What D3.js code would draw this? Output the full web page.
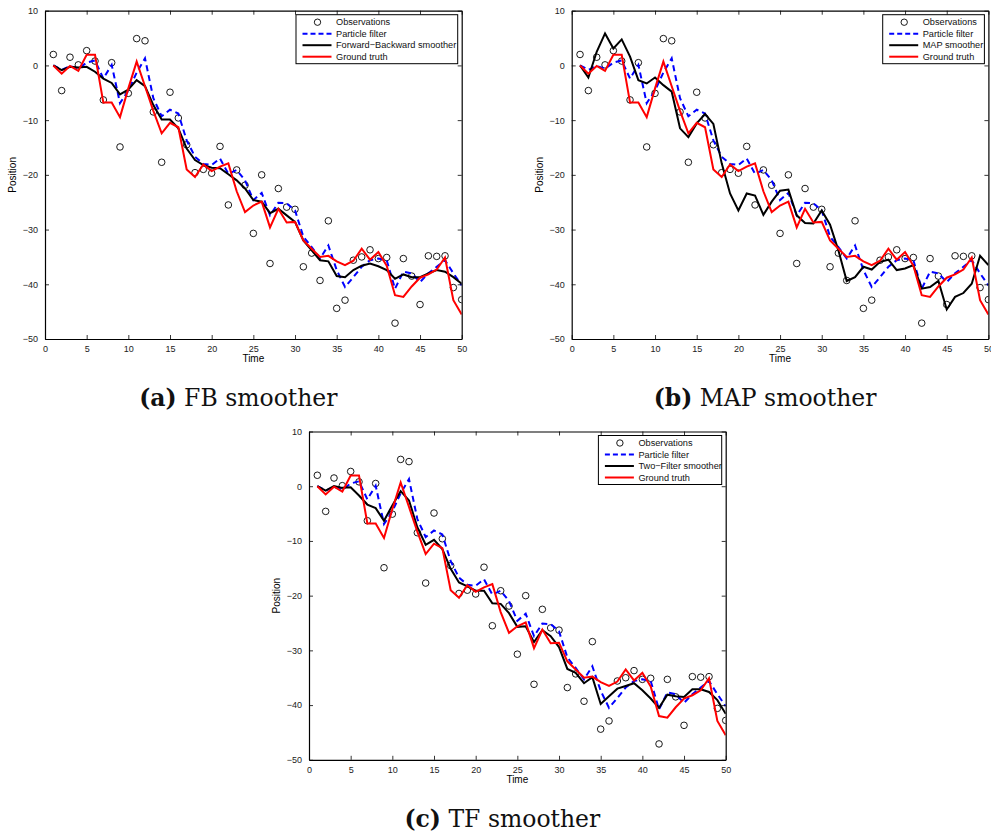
<!DOCTYPE html>
<html>
<head>
<meta charset="utf-8">
<script src="https://cdn.jsdelivr.net/npm/d3@7"></script>
<style>
body { margin: 0; background: #fff; }
svg { display: block; }
</style>
</head>
<body>
<div id="chart"></div>
<script>
// time steps 1..50
var time = d3.range(1, 51);

var observations = [2.0, -4.6, 1.5, 0.1, 2.7, 0.8, -6.3, 0.5, -14.9, -5.1,
	4.9, 4.5, -8.5, -17.7, -4.9, -9.6, -14.5, -19.6, -19.0, -19.7,
	-14.8, -25.5, -19.1, -21.9, -30.7, -20.0, -36.2, -22.5, -25.9, -26.3,
	-36.8, -34.3, -39.3, -28.4, -44.4, -42.9, -35.6, -35.0, -33.7, -35.3,
	-35.1, -47.1, -35.3, -38.5, -43.7, -34.8, -34.9, -34.8, -40.6, -42.8];

var particleFilter = [0, -0.8, -0.1, -0.6, 0.5, 0.9, -2.4, 0.1, -6.9, -4.6,
	-1.3, 1.3, -6.0, -9.3, -8.1, -8.8, -13.7, -16.7, -18.0, -18.2,
	-17.0, -19.8, -19.1, -21.0, -24.6, -23.3, -27.4, -25.1, -25.2, -26.5,
	-31.3, -33.2, -35.3, -32.9, -37.4, -40.5, -38.7, -36.8, -35.6, -35.3,
	-35.6, -40.8, -37.7, -38.0, -39.6, -38.0, -36.8, -35.6, -38.0, -40.2];

var groundTruth = [0, -1.5, -0.1, -1.0, 1.95, 1.95, -6.8, -6.8, -9.45, -4.2,
	0.7, -3.8, -8.3, -12.4, -10.5, -11.3, -19.0, -20.4, -18.1, -19.3,
	-18.5, -17.9, -23.0, -26.8, -25.6, -24.9, -29.6, -26.2, -28.7, -28.6,
	-32.0, -33.5, -35.0, -34.8, -35.8, -36.5, -35.7, -33.5, -35.5, -34.1,
	-36.6, -42.0, -42.3, -40.4, -38.8, -38.2, -37.3, -35.1, -42.9, -45.5];

var fbSmoother = [0, -0.85, -0.25, -0.4, -0.25, -1.15, -2.4, -3.2, -5.3, -4.4,
	-2.7, -3.8, -7.25, -9.9, -9.9, -11.5, -15.2, -17.3, -18.2, -18.7,
	-18.8, -19.9, -21.0, -22.5, -24.6, -24.9, -27.0, -26.2, -27.4, -28.6,
	-32.0, -33.8, -35.6, -35.8, -38.5, -38.7, -37.4, -36.6, -36.2, -36.7,
	-37.4, -39.0, -38.2, -38.7, -38.7, -38.0, -37.4, -37.7, -38.7, -39.9];

var mapSmoother = [0, -2.2, 2.5, 5.85, 3.1, 4.75, 1.6, -2.7, -3.3, -2.2,
	-3.6, -4.8, -11.5, -13.1, -10.6, -8.9, -10.7, -17.9, -23.4, -26.5,
	-23.4, -23.8, -27.3, -24.9, -22.9, -22.7, -27.4, -28.8, -28.9, -26.5,
	-29.1, -33.8, -39.4, -38.7, -36.8, -37.3, -35.9, -35.5, -37.4, -37.1,
	-36.5, -40.8, -40.5, -39.4, -44.6, -42.3, -41.6, -39.9, -34.8, -36.5];

var tfSmoother = [0, -0.8, 0.05, -0.3, -0.2, -1.7, -3.35, -4.0, -6.3, -3.5,
	-0.9, -2.6, -7.5, -10.7, -9.8, -11.5, -15.1, -17.6, -18.3, -19.1,
	-19.1, -21.4, -21.5, -23.2, -25.7, -25.6, -28.5, -26.3, -27.4, -29.4,
	-33.4, -34.1, -36.0, -34.9, -39.8, -38.4, -37.0, -36.5, -36.0, -37.3,
	-38.8, -40.5, -38.1, -38.4, -38.5, -37.1, -37.1, -37.6, -39.1, -41.6];

var xTicks = [0, 5, 10, 15, 20, 25, 30, 35, 40, 45, 50];
var yTicks = [10, 0, -10, -20, -30, -40, -50];
var legendNames = ["Observations", "Particle filter", null, "Ground truth"];

var W = 991, H = 834;
var svg = d3.select("#chart").append("svg")
	.attr("width", W)
	.attr("height", H);

var plotW = 416.7, plotH = 328.3;

function drawPanel(p) {
	var g = svg.append("g").attr("transform", "translate(" + p.left + "," + p.top + ")");

	var x = d3.scaleLinear().domain([0, 50]).range([0, plotW]);
	var y = d3.scaleLinear().domain([-50, 10]).range([plotH, 0]);

	var clipId = "clip" + p.id;
	g.append("clipPath").attr("id", clipId)
		.append("rect").attr("width", plotW).attr("height", plotH);

	var plot = g.append("g").attr("clip-path", "url(#" + clipId + ")");

	var line = d3.line()
		.x(function(d, i) { return x(time[i]); })
		.y(function(d) { return y(d); });

	plot.append("g").selectAll("circle")
		.data(observations)
		.enter().append("circle")
		.attr("cx", function(d, i) { return x(time[i]); })
		.attr("cy", function(d) { return y(d); })
		.attr("r", 3.3)
		.attr("fill", "none")
		.attr("stroke", "#000")
		.attr("stroke-width", 0.9);

	plot.append("path").datum(particleFilter)
		.attr("d", line)
		.attr("fill", "none")
		.attr("stroke", "#0000ff")
		.attr("stroke-width", 2)
		.attr("stroke-dasharray", "6,4");

	plot.append("path").datum(p.smoother)
		.attr("d", line)
		.attr("fill", "none")
		.attr("stroke", "#000")
		.attr("stroke-width", 2);

	plot.append("path").datum(groundTruth)
		.attr("d", line)
		.attr("fill", "none")
		.attr("stroke", "#ff0000")
		.attr("stroke-width", 2);

	// axes, MATLAB style: ticks pointing inward on all four sides
	var fmt = d3.format("d");
	g.append("g").attr("class", "axis")
		.attr("transform", "translate(0," + plotH + ")")
		.call(d3.axisBottom(x).tickValues(xTicks).tickSizeInner(-4).tickSizeOuter(0).tickPadding(7).tickFormat(fmt));
	g.append("g").attr("class", "axis")
		.call(d3.axisTop(x).tickValues(xTicks).tickSizeInner(-4).tickSizeOuter(0).tickFormat(""));
	g.append("g").attr("class", "axis")
		.call(d3.axisLeft(y).tickValues(yTicks).tickSizeInner(-4).tickSizeOuter(0).tickPadding(7).tickFormat(fmt));
	g.append("g").attr("class", "axis")
		.attr("transform", "translate(" + plotW + ",0)")
		.call(d3.axisRight(y).tickValues(yTicks).tickSizeInner(-4).tickSizeOuter(0).tickFormat(""));

	g.selectAll(".axis path").attr("stroke", "#000").attr("stroke-width", 1.2);
	g.selectAll(".axis line").attr("stroke", "#000").attr("stroke-width", 0.8);
	g.selectAll(".axis text")
		.attr("fill", "#222")
		.style("font-family", "'Liberation Sans', Arial, sans-serif")
		.style("font-size", "9px");

	g.append("text")
		.attr("x", plotW / 2)
		.attr("y", plotH + 23)
		.attr("text-anchor", "middle")
		.style("font-family", "'Liberation Sans', Arial, sans-serif")
		.style("font-size", "10px")
		.text("Time");

	g.append("text")
		.attr("transform", "translate(-29," + (plotH / 2) + ") rotate(-90)")
		.attr("text-anchor", "middle")
		.style("font-family", "'Liberation Sans', Arial, sans-serif")
		.style("font-size", "10px")
		.text("Position");

	// legend
	var lw = p.legendWidth, lh = 49;
	var lg = g.append("g").attr("transform", "translate(" + (plotW - 4 - lw) + ",4)");
	lg.append("rect")
		.attr("width", lw).attr("height", lh)
		.attr("fill", "#fff").attr("stroke", "#000").attr("stroke-width", 1);
	var names = legendNames.slice();
	names[2] = p.name;
	var styles = [
		{ type: "circle" },
		{ type: "line", color: "#0000ff", dash: "5,3" },
		{ type: "line", color: "#000" },
		{ type: "line", color: "#ff0000" }
	];
	names.forEach(function(n, i) {
		var yy = 7.5 + i * 11.5;
		var s = styles[i];
		if (s.type == "circle") {
			lg.append("circle").attr("cx", 21.5).attr("cy", yy).attr("r", 3.2)
				.attr("fill", "none").attr("stroke", "#000").attr("stroke-width", 0.9);
		} else {
			lg.append("line").attr("x1", 6.5).attr("x2", 35.5).attr("y1", yy).attr("y2", yy)
				.attr("stroke", s.color).attr("stroke-width", 2)
				.attr("stroke-dasharray", s.dash || null);
		}
		lg.append("text")
			.attr("x", 40).attr("y", yy + 3.2)
			.style("font-family", "'Liberation Sans', Arial, sans-serif")
			.style("font-size", "9.2px")
			.attr("fill", "#111")
			.text(n);
	});

	// caption
	var cap = svg.append("text")
		.attr("x", p.left + plotW / 2 - 15)
		.attr("y", p.top + plotH + 67)
		.attr("text-anchor", "middle")
		.style("font-family", "'DejaVu Serif', 'Liberation Serif', serif")
		.style("font-size", "23.5px")
		.attr("fill", "#111");
	cap.append("tspan").style("font-weight", "bold").text(p.label);
	cap.append("tspan").text(" " + p.caption);
}

drawPanel({ id: "a", left: 45, top: 10.7, smoother: fbSmoother, name: "Forward\u2212Backward smoother",
	legendWidth: 161.7, label: "(a)", caption: "FB smoother" });
drawPanel({ id: "b", left: 571.7, top: 10.7, smoother: mapSmoother, name: "MAP smoother",
	legendWidth: 101.7, label: "(b)", caption: "MAP smoother" });
drawPanel({ id: "c", left: 309, top: 431.5, smoother: tfSmoother, name: "Two\u2212Filter smoother",
	legendWidth: 123.3, label: "(c)", caption: "TF smoother" });
</script>
</body>
</html>
